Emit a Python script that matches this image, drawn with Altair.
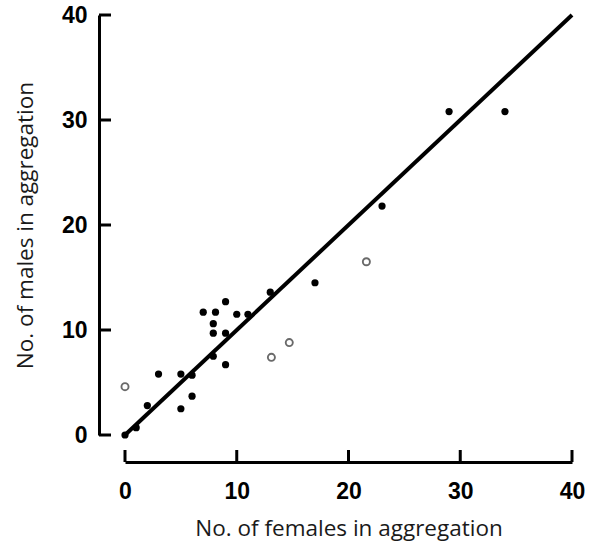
import altair as alt
import pandas as pd

# Data
females_filled = [0, 1, 2, 3, 5, 5, 6, 6, 7.9, 9, 7.9, 9, 7.9, 7, 8.1, 9, 10, 11, 13, 17, 23, 29, 34]
males_filled = [0, 0.7, 2.8, 5.8, 2.5, 5.8, 3.7, 5.7, 7.5, 6.7, 9.7, 9.7, 10.6, 11.7, 11.7, 12.7, 11.5, 11.5, 13.6, 14.5, 21.8, 30.8, 30.8]
females_open = [0, 13.1, 14.7, 21.6]
males_open = [4.6, 7.4, 8.8, 16.5]
line_females = [0, 40]
line_males = [0, 40]
tick_values = [0, 10, 20, 30, 40]

x_title = "No. of females in aggregation"
y_title = "No. of males in aggregation"

W, H = 447, 420
XOFF, YOFF = 27, 26
TICK = 12

filled_df = pd.DataFrame({"f": females_filled, "m": males_filled})
open_df = pd.DataFrame({"f": females_open, "m": males_open})
line_df = pd.DataFrame({"f": line_females, "m": line_males})
ticks_df = pd.DataFrame({"v": tick_values})

xscale = alt.Scale(domain=[0, 40], nice=False, zero=False)
yscale = alt.Scale(domain=[0, 40], nice=False, zero=False)

x_axis = alt.Axis(
    values=tick_values, offset=XOFF, ticks=False, tickSize=0, grid=False,
    domainColor="black", domainWidth=3,
    labelFont="Liberation Sans", labelFontWeight="bold", labelFontSize=23,
    labelColor="black", labelPadding=18, labelFlush=False,
    title=x_title, titleFont="Open Sans", titleFontWeight="normal",
    titleFontSize=22.5, titleColor="#1a1a1a", titlePadding=14,
)
y_axis = alt.Axis(
    values=tick_values, offset=YOFF, ticks=False, tickSize=0, grid=False,
    domainColor="black", domainWidth=3,
    labelFont="Liberation Sans", labelFontWeight="bold", labelFontSize=23,
    labelColor="black", labelPadding=12, labelFlush=False,
    title=y_title, titleFont="Open Sans", titleFontWeight="normal",
    titleFontSize=22.5, titleColor="#1a1a1a", titlePadding=24,
)

X = lambda fld: alt.X(fld, scale=xscale, axis=x_axis)
Y = lambda fld: alt.Y(fld, scale=yscale, axis=y_axis)

filled = alt.Chart(filled_df).mark_circle(size=52, color="black", opacity=1).encode(
    x=X("f:Q"), y=Y("m:Q"),
)

hollow = alt.Chart(open_df).mark_point(
    shape="circle", size=50, fill="white", fillOpacity=1, stroke="#6a6a6a",
    strokeWidth=1.9, opacity=1, filled=False,
).encode(x=X("f:Q"), y=Y("m:Q"))

line = alt.Chart(line_df).mark_line(color="black", strokeWidth=4).encode(
    x=X("f:Q"), y=Y("m:Q"),
)

x_ticks = alt.Chart(ticks_df).mark_rule(color="black", strokeWidth=3).encode(
    x=X("v:Q"),
    y=alt.value(H + XOFF),
    y2=alt.value(H + XOFF - TICK),
)

y_ticks = alt.Chart(ticks_df).mark_rule(color="black", strokeWidth=3).encode(
    y=Y("v:Q"),
    x=alt.value(-YOFF),
    x2=alt.value(-YOFF + TICK),
)

chart = alt.layer(filled, hollow, line, x_ticks, y_ticks).properties(
    width=W, height=H,
    autosize=alt.AutoSizeParams(type="none"),
    padding={"left": 125, "top": 15, "right": 17, "bottom": 108},
    background="white",
).configure_view(stroke=None)

chart.save("out.html", embed_options={"renderer": "svg", "actions": False})
